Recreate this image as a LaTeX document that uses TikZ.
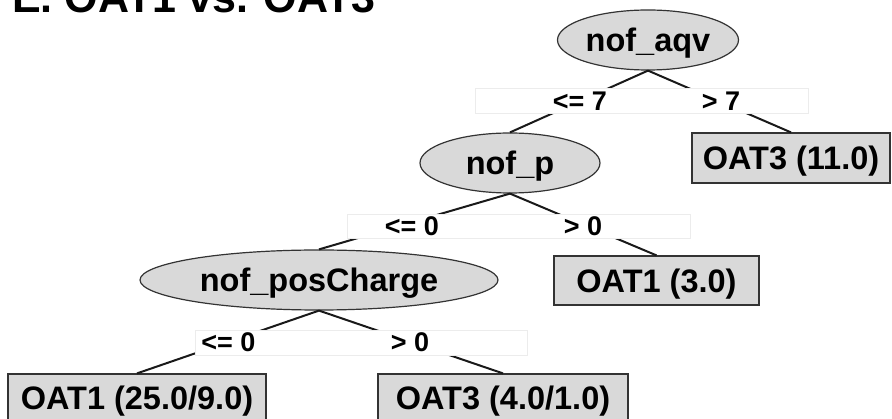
\documentclass[tikz,border=0pt]{standalone}
\usepackage{fontspec}
\setmainfont{Liberation Sans}
\usetikzlibrary{shapes.geometric}
\definecolor{nodefill}{RGB}{217,217,217}
\definecolor{bandline}{RGB}{236,236,236}
\begin{document}
\begin{tikzpicture}[x=1pt,y=-1pt,
  base/.style={font=\fontsize{32.5}{39}\selectfont\bfseries, text height=30.5pt, text depth=6.5pt,
    inner sep=0pt, draw=black!80, line width=1.2pt, fill=nodefill},
  split/.style={base, ellipse},
  leaf/.style={base, rectangle},
  band/.style={draw=bandline, fill=white, line width=0.8pt, inner sep=0pt},
  cond/.style={font=\fontsize{27}{32}\selectfont\bfseries, inner sep=0pt, anchor=base},
  edge/.style={line width=2pt, black!90}]
\useasboundingbox (0,0) rectangle (892,419);

\node[anchor=base west, inner sep=0pt, font=\fontsize{43}{50}\selectfont\bfseries] (title) at (12,13) {E. OAT1 vs. OAT3};

% decision nodes
\node[split, minimum width=181pt, minimum height=60pt] (aqv) at (648,40) {nof\_aqv};
\node[split, minimum width=180pt, minimum height=60pt] (p) at (510,163) {nof\_p};
\node[split, minimum width=358pt, minimum height=60pt] (pc) at (319,280) {nof\_posCharge};

% leaves
\node[leaf, minimum width=198pt, minimum height=50pt] (l1) at (791,158) {OAT3 (11.0)};
\node[leaf, minimum width=205pt, minimum height=49pt] (l2) at (656.5,280.5) {OAT1 (3.0)};
\node[leaf, minimum width=258pt, minimum height=48pt] (l3) at (137,398) {OAT1 (25.0/9.0)};
\node[leaf, minimum width=250pt, minimum height=48pt] (l4) at (503,398) {OAT3 (4.0/1.0)};

% connectors
\draw[edge] (aqv.south) -- (p.north);
\draw[edge] (aqv.south) -- (l1.north);
\draw[edge] (p.south) -- (pc.north);
\draw[edge] (p.south) -- (l2.north);
\draw[edge] (pc.south) -- (l3.north);
\draw[edge] (pc.south) -- (l4.north);

% label bands
\node[band, minimum width=333pt, minimum height=25pt] (b1) at (641.5,100.5) {};
\node[band, minimum width=343pt, minimum height=24pt] (b2) at (518.5,226) {};
\node[band, minimum width=332pt, minimum height=25pt] (b3) at (361,342.5) {};

% branch labels
\node[cond] (c1) at (580,111) {<= 7};
\node[cond] (c2) at (721,111) {> 7};
\node[cond] (c3) at (412,236) {<= 0};
\node[cond] (c4) at (583,236) {> 0};
\node[cond] (c5) at (228.5,352) {<= 0};
\node[cond] (c6) at (410,352) {> 0};
\end{tikzpicture}
\end{document}
